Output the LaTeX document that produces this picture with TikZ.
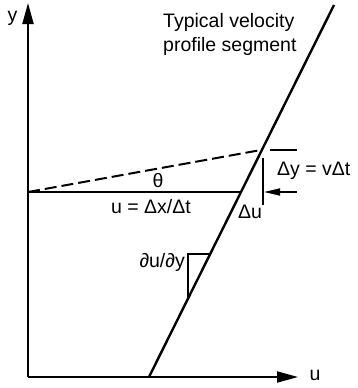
\documentclass[tikz,border=0pt]{standalone}
\usepackage{fontspec}
\setmainfont{Liberation Sans}
\usetikzlibrary{arrows.meta}
\tikzset{
  lbl/.style={inner sep=0pt,font=\fontsize{19.5}{24}\selectfont},
  axis/.style={line width=2pt,-{Triangle[length=21pt,width=11pt]}},
  thin line/.style={line width=1.7pt},
}
\begin{document}
\begin{tikzpicture}[x=1pt,y=-1pt]
  \useasboundingbox (0,0) rectangle (357,388);
  \coordinate (O) at (28,377);
  \coordinate (ytip) at (28,3);
  \coordinate (utip) at (298,377);
  \coordinate (p0) at (149,377);
  \coordinate (p1) at (334,5);
  \coordinate (a) at (28,192);
  \coordinate (b) at (241,192);
  \coordinate (c) at (261,150);
  \coordinate (s1) at (210,254);
  \coordinate (s2) at (188,254);
  \coordinate (s3) at (188,298);
  \coordinate (t1) at (270,150);
  \coordinate (t2) at (297,150);
  \coordinate (v1) at (263,158);
  \coordinate (v2) at (263,205);
  \coordinate (r1) at (297,192);
  \coordinate (r2) at (264,192);
  \draw[axis] (O) -- (ytip);
  \draw[axis] (O) -- (utip);
  \draw[line width=2.4pt] (p0) -- (p1);
  \draw[line width=2pt] (a) -- (b);
  \draw[line width=2pt,dash pattern=on 12pt off 5pt] (a) -- (c);
  \draw[thin line] (s1) -- (s2) -- (s3);
  \draw[thin line] (t1) -- (t2);
  \draw[thin line] (v1) -- (v2);
  \draw[thin line,-{Triangle[length=16pt,width=7pt]}] (r1) -- (r2);
  \node[lbl,anchor=base] (ylbl) at (12.5,21) {y};
  \node[lbl,anchor=base] (ulbl) at (315,380) {u};
  \node[lbl,anchor=base west,align=left] (title) at (163,51) {Typical velocity\\profile segment};
  \node[lbl,anchor=base] (theta) at (158,187) {θ};
  \node[lbl,anchor=base east] (ueq) at (191,213) {u = Δx/Δt};
  \node[lbl,anchor=base] (du) at (250,218) {Δu};
  \node[lbl,anchor=base west] (dy) at (277,175) {Δy = vΔt};
  \node[lbl,anchor=base east] (slope) at (185,267) {∂u/∂y};
\end{tikzpicture}
\end{document}
